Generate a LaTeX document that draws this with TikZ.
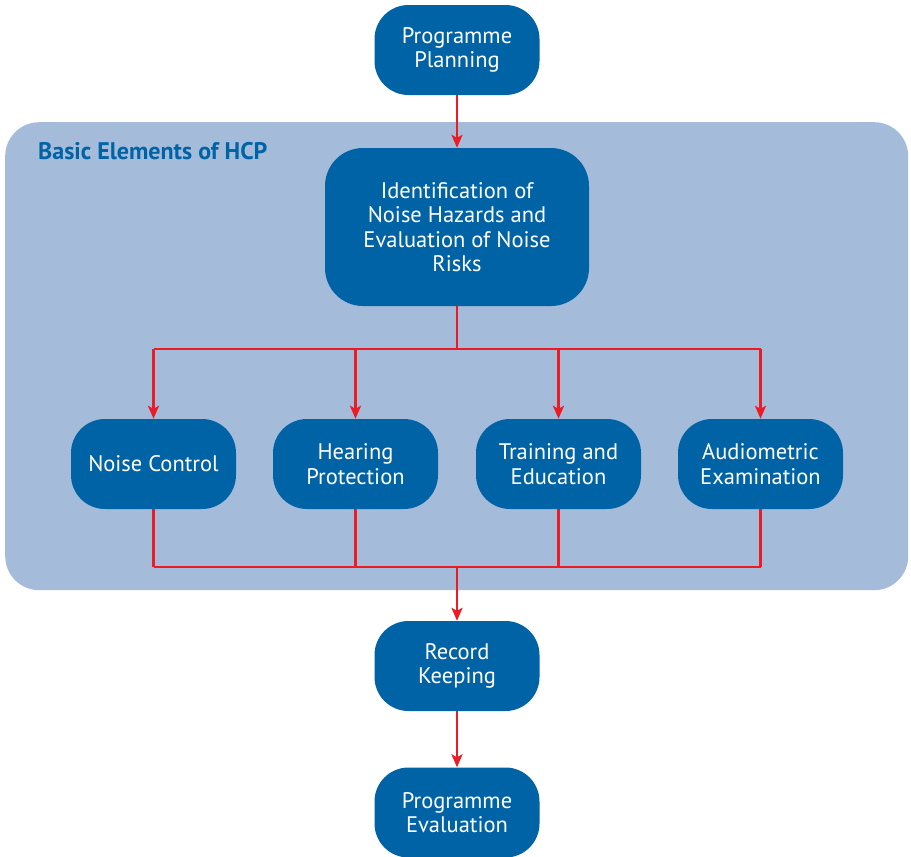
\documentclass[tikz,border=0pt]{standalone}
\usepackage{fontspec}
\setmainfont{PT Sans}
\usetikzlibrary{arrows.meta,positioning}
\definecolor{boxblue}{RGB}{0,99,166}
\definecolor{panelblue}{RGB}{164,188,218}
\definecolor{linered}{RGB}{237,28,36}
\tikzset{
  stepbox/.style={draw=none, fill=boxblue, text=white, rounded corners=34pt,
    minimum width=165pt, minimum height=90pt, align=center, inner sep=0pt,
    font=\fontsize{22.5}{24.5}\selectfont},
  conn/.style={draw=linered, line width=2.6pt},
  arr/.style={conn, -{Stealth[length=13pt,width=11pt,inset=3pt]}},
}
\begin{document}
\begin{tikzpicture}[x=1pt,y=-1pt]
\useasboundingbox (0,0) rectangle (911,857);
% panel
\node[fill=panelblue, rounded corners=34pt, minimum width=903pt, minimum height=468pt, inner sep=0pt, anchor=north west] (panel) at (5,122) {};
\node[anchor=west, text=boxblue, font=\bfseries\fontsize{24}{26}\selectfont, inner sep=0pt] (title) at (38,151) {Basic Elements of HCP};
% nodes
\node[stepbox] (plan) at (457,50) {Programme\\Planning};
\node[stepbox, minimum width=264pt, minimum height=158pt, rounded corners=38pt] (ident) at (457,227) {Identification of\\Noise Hazards and\\Evaluation of Noise\\Risks};
\node[stepbox] (nc) at (153.5,464) {Noise Control};
\node[stepbox] (hp) at (355.5,464) {Hearing\\Protection};
\node[stepbox] (te) at (558.5,464) {Training and\\Education};
\node[stepbox] (ae) at (760.5,464) {Audiometric\\Examination};
\node[stepbox] (rk) at (457,666) {Record\\Keeping};
\node[stepbox] (pe) at (457,812.5) {Programme\\Evaluation};
% connectors
\coordinate (split) at (457,349);
\coordinate (merge) at (457,567);
\draw[arr] (plan.south) -- (ident.north);
\draw[conn] (ident.south) -- (split);
\draw[conn] (nc.north |- split) -- (ae.north |- split);
\foreach \n in {nc,hp,te,ae} {
  \draw[arr] (\n.north |- split) -- (\n.north);
  \draw[conn] (\n.south) -- (\n.south |- merge);
}
\draw[conn] (nc.south |- merge) -- (ae.south |- merge);
\draw[arr] (merge) -- (rk.north);
\draw[arr] (rk.south) -- (pe.north);
\end{tikzpicture}
\end{document}
